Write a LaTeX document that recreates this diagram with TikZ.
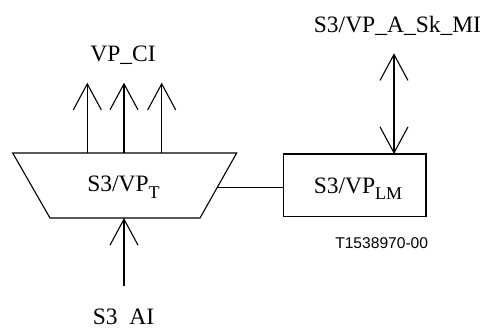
\documentclass[tikz,border=0pt]{standalone}
\usepackage{fontspec}
\setmainfont{Liberation Serif}
\newfontfamily\labelsans{Liberation Sans}
\usetikzlibrary{arrows.meta,calc}
\newcommand{\subtxt}[1]{\raisebox{-0.28em}{\fontsize{9pt}{10pt}\selectfont #1}}
\begin{document}
\begin{tikzpicture}[x=0.5pt,y=-0.5pt,
  every node/.style={inner sep=0pt, outer sep=0pt},
  lbl/.style={font=\fontsize{11.75pt}{14pt}\selectfont, anchor=base},
  code/.style={font=\labelsans\fontsize{7.8pt}{9pt}\selectfont, anchor=base},
  ln/.style={line width=0.55pt},
  arr/.style={ln, -{Straight Barb[length=13pt,width=14pt,line width=0.55pt]}},
  darr/.style={ln, {Straight Barb[length=13pt,width=14pt,line width=0.55pt]}-{Straight Barb[length=13pt,width=14pt,line width=0.55pt]}}]
\useasboundingbox (0,0) rectangle (484,329);
\clip (0,0) rectangle (484,329);
% trapezoid
\coordinate (tl) at (12.7,153);
\coordinate (tr) at (236.7,153);
\coordinate (br) at (200,218);
\coordinate (bl) at (50,218);
\draw[ln] (tl) -- (tr) -- (br) -- (bl) -- cycle;
\node[lbl] (tlab) at (123.5,191.7) {S3/VP\subtxt{T}};
% output arrows
\coordinate (o1) at (87.3,153);
\coordinate (o2) at (124,153);
\coordinate (o3) at (161.7,153);
\coordinate (t1) at (87.3,82.7);
\coordinate (t2) at (124,82.7);
\coordinate (t3) at (161.7,82.7);
\draw[arr] (o1) -- (t1);
\draw[arr] (o2) -- (t2);
\draw[arr] (o3) -- (t3);
\node[lbl] (vpci) at (123,61.7) {VP\_CI};
% right box
\node[draw, ln, minimum width=142.7*0.5pt, minimum height=62.7*0.5pt, anchor=north west] (lm) at (283.3,154) {};
\node[lbl] (lmlab) at (358,193) {S3/VP\subtxt{LM}};
% link
\coordinate (rp) at ($(tr)!0.534!(br)$);
\draw[ln] (rp) -- (rp -| lm.west);
% management arrow
\coordinate (mtop) at (394,53.3);
\draw[darr] (mtop) -- (mtop |- lm.north);
\node[lbl] (mi) at (397.5,32.3) {S3/VP\_A\_Sk\_MI};
% input arrow
\coordinate (ib) at (124,285.7);
\coordinate (it) at (124,218);
\draw[arr] (ib) -- (it);
\node[lbl] (ai) at (123.5,324.5) {S3\raisebox{-4pt}{\_}AI};
\node[code] (code) at (381.7,248.3) {T1538970-00};
\end{tikzpicture}
\end{document}
